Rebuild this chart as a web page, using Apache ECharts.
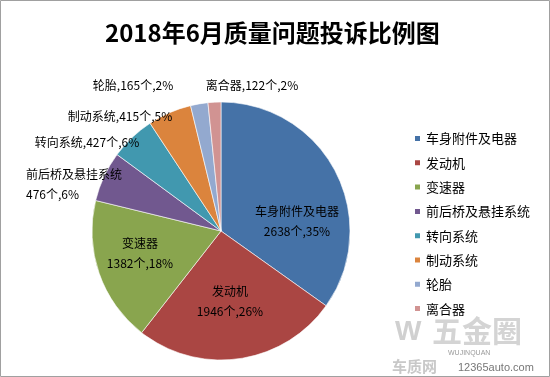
<!DOCTYPE html>
<html><head><meta charset="utf-8">
<script src="https://cdn.jsdelivr.net/npm/echarts@6/dist/echarts.min.js"></script>
<style>html,body{margin:0;padding:0;background:#fff}#c{width:550px;height:377px}</style>
</head><body><div id="c"></div>
<script>
const categories = ['车身附件及电器','发动机','变速器','前后桥及悬挂系统','转向系统','制动系统','轮胎','离合器'];
const counts = [2638,1946,1382,476,427,415,165,122];
const percents = [35,26,18,6,6,5,2,2];
const titleText = '2018年6月质量问题投诉比例图';

const colors = ['#4572A7','#AA4643','#89A54E','#71588F','#4198AF','#DB843D','#93A9CF','#D19392'];
// label anchor layout (x, y, align)
const labelPos = [
  [297,221,'center'],[230,301,'center'],[140,253,'center'],[26,184,'left'],
  [87,142,'center'],[120,116,'center'],[133,85,'center'],[252,85,'center']
];
const twoLine = [true,true,true,true,false,false,false,false];

const chart = echarts.init(document.getElementById('c'));
chart.setOption({
  animation:false,
  color: colors,
  title:{text:titleText,left:100,top:16,textStyle:{fontFamily:'Noto Sans CJK SC',fontWeight:'bold',fontSize:24,color:'#000'}},
  legend:{orient:'vertical',left:408,top:127,icon:'rect',itemWidth:7,itemHeight:7,itemGap:11.3,
    textStyle:{fontFamily:'Noto Sans CJK SC',fontSize:13,color:'#000',lineHeight:13},
    data:categories},
  graphic:[
    {type:'rect',shape:{x:0.5,y:0.5,width:549,height:376},style:{fill:'none',stroke:'#a0a0a0',lineWidth:1},silent:true},
    {type:'text',left:432,top:316,style:{text:'五金圈',fontSize:30,fontWeight:'bold',fontFamily:'Noto Sans CJK SC',fill:'#d4d4d4'},silent:true},
    {type:'text',left:395,top:318,style:{text:'W',fontSize:28,fontWeight:'bold',fill:'#d0d0d0'},silent:true},
    {type:'text',left:448,top:350,style:{text:'WUJINQUAN',fontSize:7,fill:'#9a9a9a'},silent:true},
    {type:'text',left:392,top:359,style:{text:'车质网',fontSize:15,fontWeight:'bold',fontFamily:'Noto Sans CJK SC',fill:'#c8c8c8'},silent:true},
    {type:'text',left:458,top:362,style:{text:'12365auto.com',fontSize:11,fill:'#777'},silent:true}
  ],
  series:[{
    type:'pie',center:[221,231],radius:129,startAngle:90,clockwise:true,avoidLabelOverlap:false,
    itemStyle:{borderColor:'#fff',borderWidth:0.6},
    label:{show:true,position:'outside',fontFamily:'Noto Sans CJK SC',fontSize:12,color:'#000',lineHeight:20,
      formatter:p=>{const i=p.dataIndex;return twoLine[i]?categories[i]+'\n'+counts[i]+'个,'+percents[i]+'%':categories[i]+','+counts[i]+'个,'+percents[i]+'%';}},
    labelLine:{show:false},
    labelLayout:p=>{const l=labelPos[p.dataIndex];return {x:l[0],y:l[1],align:l[2],verticalAlign:'middle'};},
    data:categories.map((n,i)=>({name:n,value:counts[i]}))
  }]
});
</script></body></html>
